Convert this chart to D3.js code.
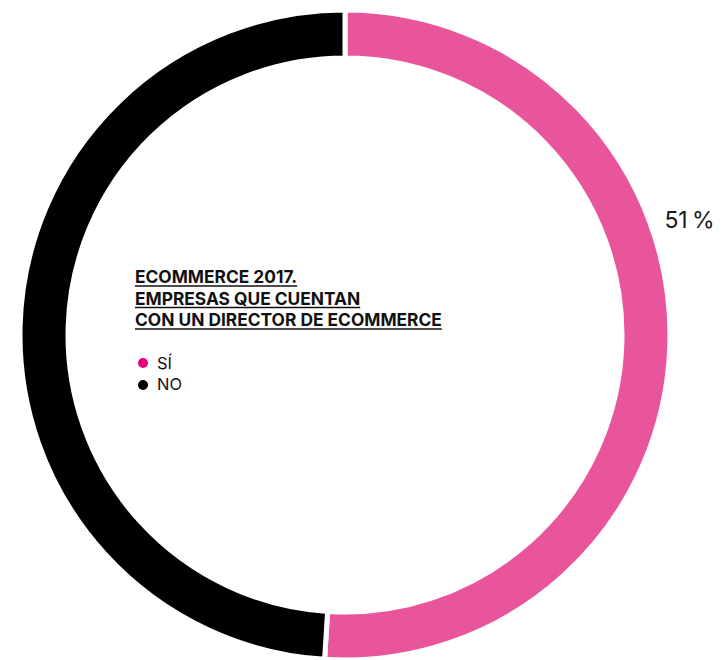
<!DOCTYPE html>
<html>
<head>
<meta charset="utf-8">
<script src="https://cdn.jsdelivr.net/npm/d3@7"></script>
<style>
  html, body { margin: 0; padding: 0; background: #fff; }
  svg { display: block; }
</style>
</head>
<body>
<svg id="chart" width="723" height="660"></svg>
<script>
// Share of companies with an ecommerce director, 2017
const categories = ["SÍ", "NO"];
const values = [51, 49];
const ringColors = ["#e9559a", "#000000"];
const legendColors = ["#e6007e", "#000000"];
const titleLines = [
  "ECOMMERCE 2017.",
  "EMPRESAS QUE CUENTAN",
  "CON UN DIRECTOR DE ECOMMERCE"
];

const svg = d3.select("#chart");
const cx = 345, cy = 335;
const outerR = 325, innerR = 277;
const fontFamily = "Inter, Roboto, 'Noto Sans', sans-serif";

const pie = d3.pie().sort(null).value(d => d);
const arcs = pie(values);
const arc = d3.arc().innerRadius(innerR).outerRadius(outerR);

const g = svg.append("g").attr("transform", `translate(${cx},${cy})`);

g.selectAll("path.slice")
  .data(arcs)
  .enter().append("path")
  .attr("class", "slice")
  .attr("d", arc)
  .attr("fill", (d, i) => ringColors[i])
  .attr("stroke", "#fff")
  .attr("stroke-width", 5);

// Value label outside the ring, on the upper right of the pink slice
const labelAngle = arcs[0].startAngle + (arcs[0].endAngle - arcs[0].startAngle) * 0.39;
const labelR = 363;
g.append("text")
  .attr("x", Math.sin(labelAngle) * labelR)
  .attr("y", -Math.cos(labelAngle) * labelR)
  .attr("text-anchor", "middle")
  .attr("dominant-baseline", "central")
  .attr("font-family", fontFamily)
  .attr("font-size", 23)
  .attr("fill", "#1a1a1a")
  .text(values[0] + "\u2009%");

// Title block, underlined; font size chosen so the longest line is 307px wide
const title = svg.append("g").attr("transform", "translate(135,0)");
const probe = title.append("text")
  .attr("font-family", fontFamily).attr("font-weight", 700)
  .attr("font-size", 100).text(titleLines[2]);
const titleSize = 100 * 307 / probe.node().getComputedTextLength();
probe.remove();

titleLines.forEach((line, i) => {
  const y = 283 + i * 21.5;
  const t = title.append("text")
    .attr("x", 0).attr("y", y)
    .attr("font-family", fontFamily)
    .attr("font-weight", 700)
    .attr("font-size", titleSize)
    .attr("fill", "#111")
    .text(line);
  const w = t.node().getComputedTextLength();
  title.append("line")
    .attr("x1", 0).attr("x2", w)
    .attr("y1", y + 3).attr("y2", y + 3)
    .attr("stroke", "#111").attr("stroke-width", 1.3);
});

// Legend
const legend = svg.append("g").attr("transform", "translate(143,0)");
categories.forEach((c, i) => {
  const y = 363 + i * 21;
  legend.append("circle")
    .attr("cx", 0).attr("cy", y + i)
    .attr("r", 5)
    .attr("fill", legendColors[i]);
  legend.append("text")
    .attr("x", 14).attr("y", y + 5.5)
    .attr("font-family", fontFamily)
    .attr("font-size", 16.5)
    .attr("fill", "#111")
    .text(c);
});
</script>
</body>
</html>
